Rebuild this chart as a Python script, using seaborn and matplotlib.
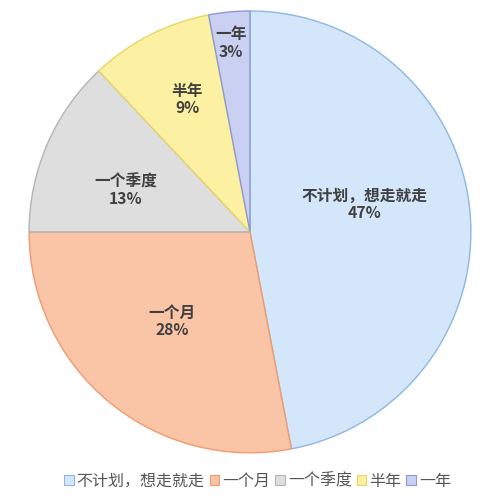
import numpy as np
import matplotlib
matplotlib.use("Agg")
import matplotlib.pyplot as plt
import seaborn as sns

categories = ["不计划，想走就走", "一个月", "一个季度", "半年", "一年"]
values = [47, 28, 13, 9, 3]
pct_labels = ["47%", "28%", "13%", "9%", "3%"]

sns.set_theme(style="white")
plt.rcParams['font.family'] = ['Noto Sans CJK SC', 'DejaVu Sans']

face_colors = ["#d3e6fa", "#fac4a6", "#dedede", "#fcf0a2", "#c9d0f2"]
edge_colors = ["#8db7e2", "#f19a70", "#b4b4b4", "#e6d668", "#8e99d2"]
label_dist = [0.532, 0.536, 0.594, 0.663, 0.86]
label_ang_off = [7.9, -1.3, 4.8, -1.6, 0.3]

fig = plt.figure(figsize=(5.0, 5.03), dpi=100)
fig.patch.set_facecolor("white")
ax = fig.add_axes([0.5 - 0.444, 0.539 - 0.4414, 0.888, 0.8828])

wedges, _ = ax.pie(values, colors=face_colors, startangle=90, counterclock=False,
                   wedgeprops=dict(linewidth=1.0))
for w, ec in zip(wedges, edge_colors):
    w.set_edgecolor(ec)

for w, cat, pct, d, off in zip(wedges, categories, pct_labels, label_dist, label_ang_off):
    ang = np.deg2rad((w.theta1 + w.theta2) / 2 + off)
    x, y = d * np.cos(ang), d * np.sin(ang)
    ax.text(x, y, f"{cat}\n{pct}", ha="center", va="center", fontsize=11.3,
            fontweight="bold", color="#404040", linespacing=1.1)
ax.set_aspect("equal")
ax.set_xlim(-1.005, 1.005)
ax.set_ylim(-1.005, 1.005)

handles = [plt.Rectangle((0, 0), 1, 1, facecolor=fc, edgecolor=ec, linewidth=0.8)
           for fc, ec in zip(face_colors, edge_colors)]
fig.legend(handles, categories, loc="center", bbox_to_anchor=(0.515, 0.043), ncol=5,
           frameon=False, fontsize=11.5, handlelength=0.6, handleheight=0.6,
           handletextpad=0.2, columnspacing=0.3, labelcolor="#555555")

fig.savefig("out.png", dpi=100, facecolor="white")
